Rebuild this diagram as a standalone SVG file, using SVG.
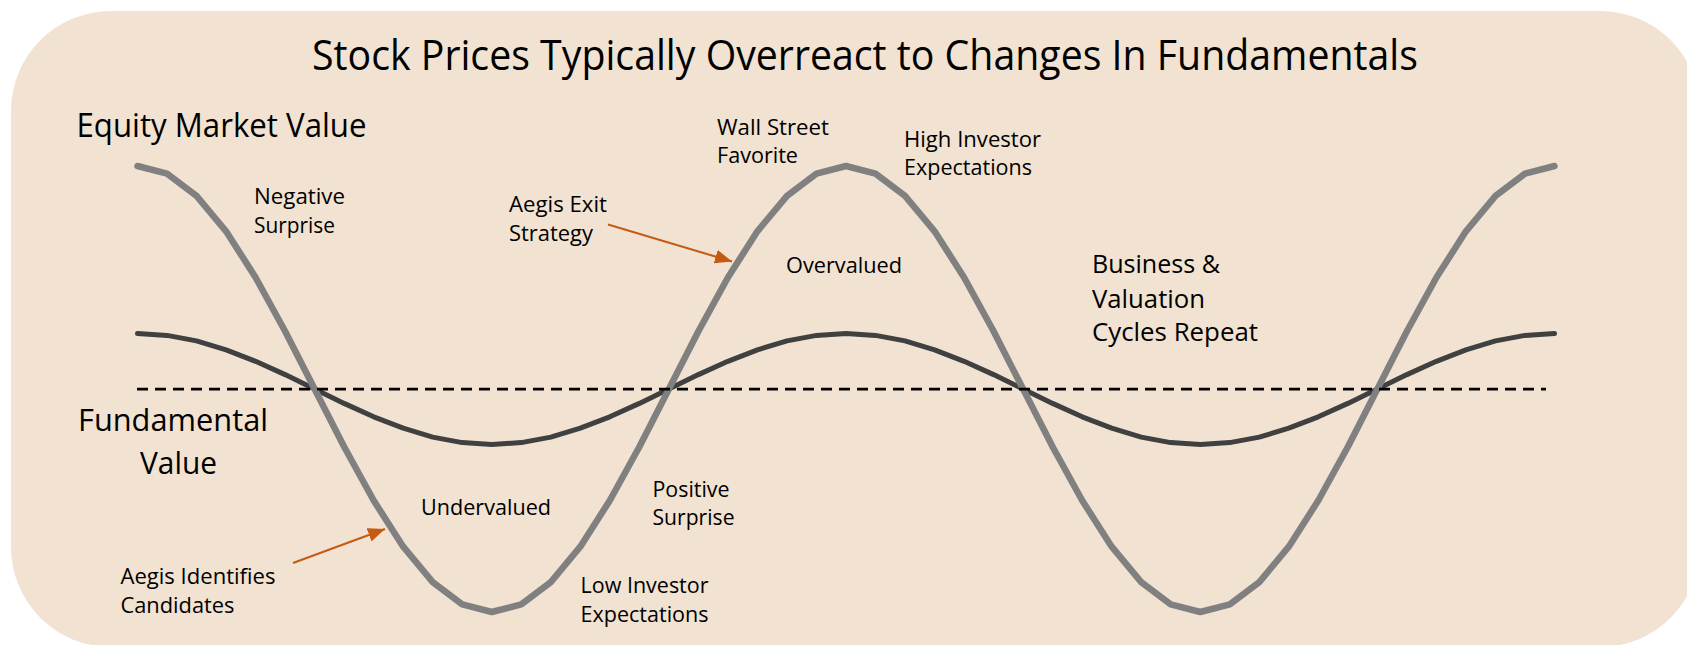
<svg xmlns="http://www.w3.org/2000/svg" width="1687" height="645" viewBox="0 0 1687 645">
<style>
text{font-family:"Open Sans","Noto Sans","Liberation Sans",sans-serif;fill:#000;}
.t{font-size:42px;}
.ax{font-size:33px;}
.ax2{font-size:31px;}
.lb{font-size:22px;}
.lg{font-size:26px;}
.eq{fill:none;stroke:#808080;stroke-width:6.5;stroke-linejoin:round;stroke-linecap:round;}
.fv{fill:none;stroke:#404040;stroke-width:5;stroke-linejoin:round;stroke-linecap:round;}
.dash{stroke:#000;stroke-width:2.75;stroke-dasharray:11 7;}
.arr{stroke:#C55A11;stroke-width:2;fill:none;}
</style>
<defs>
<marker id="ah" markerUnits="userSpaceOnUse" markerWidth="18" markerHeight="14" refX="17" refY="7" orient="auto">
<path d="M0,0 L17,7 L0,14 Z" fill="#C55A11"/>
</marker>
</defs>
<rect x="11" y="11" width="1689" height="636" rx="100" ry="100" fill="#F1E2D1"/>
<g id="title"><text class="t" x="312" y="70" textLength="1106" lengthAdjust="spacingAndGlyphs">Stock Prices Typically Overreact to Changes In Fundamentals</text></g>
<g id="curves">
<polyline class="fv" points="137.5,333.5 167.0,335.4 196.5,340.9 226.1,349.8 255.6,361.3 285.1,374.6 314.6,389 344.1,403.4 373.7,416.8 403.2,428.2 432.7,437.1 462.2,442.6 491.8,444.5 521.3,442.6 550.8,437.1 580.3,428.2 609.8,416.8 639.4,403.4 668.9,389 698.4,374.6 727.9,361.3 757.4,349.8 787.0,340.9 816.5,335.4 846.0,333.5 875.5,335.4 905.0,340.9 934.6,349.8 964.1,361.3 993.6,374.6 1023.1,389 1052.6,403.4 1082.2,416.8 1111.7,428.2 1141.2,437.1 1170.7,442.6 1200.3,444.5 1229.8,442.6 1259.3,437.1 1288.8,428.2 1318.3,416.8 1347.9,403.4 1377.4,389 1406.9,374.6 1436.4,361.3 1465.9,349.8 1495.5,340.9 1525.0,335.4 1554.5,333.5"/>
<polyline class="eq" points="137.5,166 167.0,173.6 196.5,195.9 226.1,231.3 255.6,277.5 285.1,331.3 314.6,389 344.1,446.7 373.7,500.5 403.2,546.7 432.7,582.1 462.2,604.4 491.8,612 521.3,604.4 550.8,582.1 580.3,546.7 609.8,500.5 639.4,446.7 668.9,389 698.4,331.3 727.9,277.5 757.4,231.3 787.0,195.9 816.5,173.6 846.0,166 875.5,173.6 905.0,195.9 934.6,231.3 964.1,277.5 993.6,331.3 1023.1,389 1052.6,446.7 1082.2,500.5 1111.7,546.7 1141.2,582.1 1170.7,604.4 1200.3,612 1229.8,604.4 1259.3,582.1 1288.8,546.7 1318.3,500.5 1347.9,446.7 1377.4,389 1406.9,331.3 1436.4,277.5 1465.9,231.3 1495.5,195.9 1525.0,173.6 1554.5,166"/>
<line class="dash" x1="137" y1="389" x2="1546" y2="389"/>
</g>
<g id="axis-equity"><text class="ax" x="76.5" y="137" textLength="290" lengthAdjust="spacingAndGlyphs">Equity Market Value</text></g>
<g id="axis-fundamental">
<text class="ax2" x="78" y="431" textLength="190" lengthAdjust="spacingAndGlyphs">Fundamental</text>
<text class="ax2" x="140" y="474" textLength="77" lengthAdjust="spacingAndGlyphs">Value</text>
</g>
<g id="negative-surprise">
<text class="lb" x="254" y="204" textLength="91" lengthAdjust="spacingAndGlyphs">Negative</text>
<text class="lb" x="254" y="233" textLength="81" lengthAdjust="spacingAndGlyphs">Surprise</text>
</g>
<g id="aegis-exit">
<text class="lb" x="509" y="212" textLength="98" lengthAdjust="spacingAndGlyphs">Aegis Exit</text>
<text class="lb" x="509" y="241" textLength="84" lengthAdjust="spacingAndGlyphs">Strategy</text>
</g>
<g id="wall-street">
<text class="lb" x="717" y="135" textLength="112" lengthAdjust="spacingAndGlyphs">Wall Street</text>
<text class="lb" x="717" y="163" textLength="81" lengthAdjust="spacingAndGlyphs">Favorite</text>
</g>
<g id="high-investor">
<text class="lb" x="904" y="147" textLength="137" lengthAdjust="spacingAndGlyphs">High Investor</text>
<text class="lb" x="904" y="175" textLength="128" lengthAdjust="spacingAndGlyphs">Expectations</text>
</g>
<g id="overvalued"><text class="lb" x="786" y="273" textLength="116" lengthAdjust="spacingAndGlyphs">Overvalued</text></g>
<g id="cycles">
<text class="lg" x="1092" y="273" textLength="128" lengthAdjust="spacingAndGlyphs">Business &amp;</text>
<text class="lg" x="1092" y="308" textLength="113" lengthAdjust="spacingAndGlyphs">Valuation</text>
<text class="lg" x="1092" y="341" textLength="166" lengthAdjust="spacingAndGlyphs">Cycles Repeat</text>
</g>
<g id="undervalued"><text class="lb" x="421" y="515" textLength="130" lengthAdjust="spacingAndGlyphs">Undervalued</text></g>
<g id="aegis-identifies">
<text class="lb" x="120.5" y="584" textLength="155" lengthAdjust="spacingAndGlyphs">Aegis Identifies</text>
<text class="lb" x="120.5" y="613" textLength="114" lengthAdjust="spacingAndGlyphs">Candidates</text>
</g>
<g id="positive-surprise">
<text class="lb" x="652.5" y="497" textLength="77" lengthAdjust="spacingAndGlyphs">Positive</text>
<text class="lb" x="652.5" y="525" textLength="82" lengthAdjust="spacingAndGlyphs">Surprise</text>
</g>
<g id="low-investor">
<text class="lb" x="580.5" y="593" textLength="128" lengthAdjust="spacingAndGlyphs">Low Investor</text>
<text class="lb" x="580.5" y="622" textLength="128" lengthAdjust="spacingAndGlyphs">Expectations</text>
</g>
<g id="connectors">
<line class="arr" x1="608" y1="224.5" x2="732" y2="261.5" marker-end="url(#ah)"/>
<line class="arr" x1="293" y1="563" x2="385" y2="529" marker-end="url(#ah)"/>
</g>
</svg>
